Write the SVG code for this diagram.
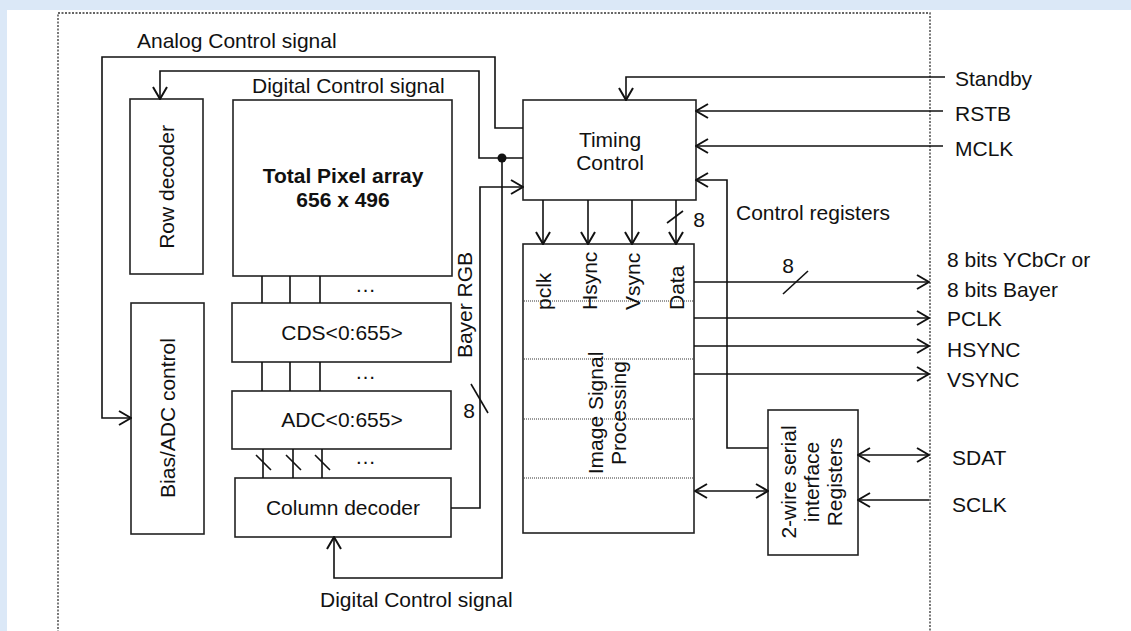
<svg xmlns="http://www.w3.org/2000/svg" width="1131" height="631" viewBox="0 0 1131 631">
<style>
.t{font-family:"Liberation Sans",Arial,sans-serif;font-size:21px;fill:#111}
.b{font-weight:bold}
.m{text-anchor:middle}
.box{fill:#fff;stroke:#222;stroke-width:1.6}
.w{fill:none;stroke:#111;stroke-width:1.6}
.a{fill:none;stroke:#111;stroke-width:1.6;marker-end:url(#arr)}
.aa{fill:none;stroke:#111;stroke-width:1.6;marker-end:url(#arr);marker-start:url(#arr)}
.dot{fill:none;stroke:#333;stroke-width:1;stroke-dasharray:1 1}
</style>
<defs>
<marker id="arr" viewBox="0 0 14 16" refX="13" refY="8" markerWidth="14" markerHeight="16" markerUnits="userSpaceOnUse" orient="auto-start-reverse">
<path d="M1,1 L13,8 L1,15" fill="none" stroke="#111" stroke-width="2"/>
</marker>
</defs>
<rect x="0" y="0" width="1131" height="631" fill="#dbe8f7"/>
<rect x="7" y="10" width="1124" height="621" fill="#fff"/>
<rect x="58" y="13" width="872" height="640" fill="none" stroke="#333" stroke-width="1.3" stroke-dasharray="2 1.5"/>

<g id="row-decoder"><rect class="box" x="130" y="99" width="73" height="175"/><text class="t m" transform="translate(174,187) rotate(-90)">Row decoder</text></g>
<g id="pixel-array"><rect class="box" x="233" y="100" width="219" height="176"/><text class="t b m" x="343" y="183">Total Pixel array</text><text class="t b m" x="343" y="207">656 x 496</text></g>
<g id="bias-adc"><rect class="box" x="131" y="303" width="73" height="231"/><text class="t m" transform="translate(175,418) rotate(-90)">Bias/ADC control</text></g>
<g id="cds"><rect class="box" x="232" y="303" width="219" height="59"/><text class="t m" x="342" y="340">CDS&lt;0:655&gt;</text></g>
<g id="adc"><rect class="box" x="232" y="391" width="219" height="58"/><text class="t m" x="342" y="427">ADC&lt;0:655&gt;</text></g>
<g id="column-decoder"><rect class="box" x="235" y="478" width="216" height="59"/><text class="t m" x="343" y="515">Column decoder</text></g>
<g id="timing-control"><rect class="box" x="523" y="100" width="173" height="100"/><text class="t m" x="610" y="147">Timing</text><text class="t m" x="610" y="170">Control</text></g>
<g id="isp"><rect class="box" x="523" y="244" width="171" height="289"/>
<line class="dot" x1="524" y1="301" x2="693" y2="301"/><line class="dot" x1="524" y1="359" x2="693" y2="359"/><line class="dot" x1="524" y1="419" x2="693" y2="419"/><line class="dot" x1="524" y1="478" x2="693" y2="478"/>
<text class="t" transform="translate(551,310) rotate(-90)">pclk</text>
<text class="t" transform="translate(597,310) rotate(-90)">Hsync</text>
<text class="t" transform="translate(640,310) rotate(-90)">Vsync</text>
<text class="t" transform="translate(684,310) rotate(-90)">Data</text>
<text class="t m" transform="translate(603,413) rotate(-90)">Image Signal</text>
<text class="t m" transform="translate(626,413) rotate(-90)">Processing</text>
</g>
<g id="serial-interface"><rect class="box" x="768" y="410" width="90" height="145"/>
<text class="t m" transform="translate(796,482) rotate(-90)">2-wire serial</text>
<text class="t m" transform="translate(819,482) rotate(-90)">interface</text>
<text class="t m" transform="translate(842,482) rotate(-90)">Registers</text>
</g>

<g id="connectors">
<path class="a" d="M523,128 H495 V57 H102 V418 H131"/>
<path class="a" d="M523,158 H479 V71 H160 V99"/>
<path class="a" d="M502,158 V578 H334 V537"/>
<circle cx="502" cy="158" r="4.5" fill="#111"/>
<path class="a" d="M451,508 H480 V187 H523"/>
<line class="w" x1="471" y1="384" x2="488" y2="413"/>
<path class="a" d="M945,77 H626 V100"/>
<path class="a" d="M943,111 H696"/>
<path class="a" d="M943,146 H696"/>
<path class="a" d="M768,448 H727 V180 H696"/>
<path class="a" d="M543,200 V244"/>
<path class="a" d="M588,200 V244"/>
<path class="a" d="M632,200 V244"/>
<path class="a" d="M676,200 V244"/>
<line class="w" x1="667" y1="223" x2="683" y2="211"/>
<path class="a" d="M694,282 H929"/>
<path class="a" d="M694,318 H929"/>
<path class="a" d="M694,346 H929"/>
<path class="a" d="M694,374 H929"/>
<line class="w" x1="783" y1="294" x2="808" y2="271"/>
<path class="aa" d="M695,491 H768"/>
<path class="aa" d="M858,455 H929"/>
<path class="a" d="M929,500 H858"/>
<path class="w" d="M262,276 V303 M290,276 V303 M320,276 V303 M262,362 V391 M290,362 V391 M320,362 V391 M263,449 V478 M293,449 V478 M322,449 V478"/>
<path class="w" d="M256,455 L271,470 M286,455 L301,470 M315,455 L330,470"/>
</g>

<g id="labels">
<text class="t" x="137" y="48">Analog Control signal</text>
<text class="t" x="252" y="93">Digital Control signal</text>
<text class="t" x="320" y="607">Digital Control signal</text>
<text class="t" x="355" y="292">…</text>
<text class="t" x="355" y="379">…</text>
<text class="t" x="355" y="464">…</text>
<text class="t m" transform="translate(472,305) rotate(-90)">Bayer RGB</text>
<text class="t m" x="469" y="418">8</text>
<text class="t m" x="699" y="227">8</text>
<text class="t m" x="788" y="273">8</text>
<text class="t" x="736" y="220">Control registers</text>
<text class="t" x="955" y="86">Standby</text>
<text class="t" x="955" y="121">RSTB</text>
<text class="t" x="955" y="156">MCLK</text>
<text class="t" x="947" y="267">8 bits YCbCr or</text>
<text class="t" x="947" y="297">8 bits Bayer</text>
<text class="t" x="947" y="326">PCLK</text>
<text class="t" x="947" y="357">HSYNC</text>
<text class="t" x="947" y="387">VSYNC</text>
<text class="t" x="952" y="465">SDAT</text>
<text class="t" x="952" y="512">SCLK</text>
</g>
</svg>
